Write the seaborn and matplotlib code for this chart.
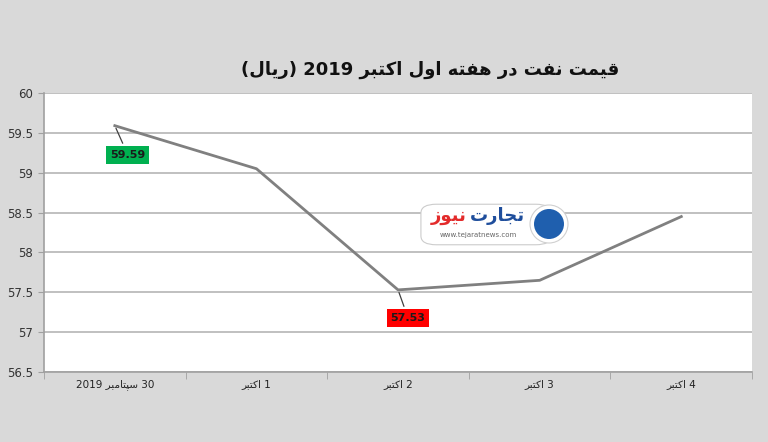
import re
import numpy as np
import pandas as pd
import matplotlib
matplotlib.use("Agg")
import matplotlib.pyplot as plt
import seaborn as sns
from matplotlib.patches import FancyBboxPatch, Ellipse

# data
dates = ["30 سپتامبر 2019", "1 اکتبر", "2 اکتبر", "3 اکتبر", "4 اکتبر"]
prices = [59.59, 59.05, 57.53, 57.65, 58.45]
y_ticks = [56.5, 57, 57.5, 58, 58.5, 59, 59.5, 60]
title = "قیمت نفت در هفته اول اکتبر 2019 (ریال)"

# presentation forms: isolated, final, initial, medial (None = does not join forward)
FORMS = {
    "ا": ("\uFE8D", "\uFE8E", None, None),
    "ب": ("\uFE8F", "\uFE90", "\uFE91", "\uFE92"),
    "پ": ("\uFB56", "\uFB57", "\uFB58", "\uFB59"),
    "ت": ("\uFE95", "\uFE96", "\uFE97", "\uFE98"),
    "ج": ("\uFE9D", "\uFE9E", "\uFE9F", "\uFEA0"),
    "د": ("\uFEA9", "\uFEAA", None, None),
    "ر": ("\uFEAD", "\uFEAE", None, None),
    "ز": ("\uFEAF", "\uFEB0", None, None),
    "س": ("\uFEB1", "\uFEB2", "\uFEB3", "\uFEB4"),
    "ف": ("\uFED1", "\uFED2", "\uFED3", "\uFED4"),
    "ق": ("\uFED5", "\uFED6", "\uFED7", "\uFED8"),
    "ک": ("\uFB8E", "\uFB8F", "\uFB90", "\uFB91"),
    "ل": ("\uFEDD", "\uFEDE", "\uFEDF", "\uFEE0"),
    "م": ("\uFEE1", "\uFEE2", "\uFEE3", "\uFEE4"),
    "ن": ("\uFEE5", "\uFEE6", "\uFEE7", "\uFEE8"),
    "ه": ("\uFEE9", "\uFEEA", "\uFEEB", "\uFEEC"),
    "و": ("\uFEED", "\uFEEE", None, None),
    "ی": ("\uFBFC", "\uFBFD", "\uFBFE", "\uFBFF"),
}


def rtl(text):
    """Shape Persian letters and put the string in visual order."""
    out = []
    for i, ch in enumerate(text):
        if ch not in FORMS:
            out.append(ch)
            continue
        prev = text[i - 1] if i > 0 else ""
        nxt = text[i + 1] if i + 1 < len(text) else ""
        joins_prev = prev in FORMS and FORMS[prev][2] is not None
        joins_next = FORMS[ch][2] is not None and nxt in FORMS
        iso, fin, ini, med = FORMS[ch]
        if joins_prev and joins_next:
            out.append(med)
        elif joins_prev:
            out.append(fin)
        elif joins_next:
            out.append(ini)
        else:
            out.append(iso)
    vis = "".join(out)[::-1]
    vis = re.sub(r"[0-9.]+", lambda m: m.group(0)[::-1], vis)
    return vis.translate(str.maketrans("()", ")("))


df = pd.DataFrame({"date": [rtl(d) for d in dates], "price": prices})

bg = "#d9d9d9"
fig = plt.figure(figsize=(7.68, 4.42), dpi=100, facecolor=bg)
ax = fig.add_axes([0.0573, 0.1584, 0.922, 0.6312])
ax.set_facecolor("white")

sns.lineplot(data=df, x="date", y="price", ax=ax, color="#808080",
             linewidth=2.0, sort=False)

ax.set_xlim(-0.5, len(dates) - 0.5)
ax.set_ylim(y_ticks[0], y_ticks[-1])
ax.set_yticks(y_ticks)
ax.set_yticklabels([f"{t:g}" for t in y_ticks], fontsize=8.5, color="#333333")
ax.set_xticks(range(len(dates)))
ax.set_xticklabels(df["date"], fontsize=7.5, color="#222222")
ax.set_xticks(np.arange(-0.5, len(dates)), minor=True)
ax.tick_params(axis="x", which="major", length=0, pad=5)
ax.tick_params(axis="x", which="minor", length=5, color="#a0a0a0")
ax.tick_params(axis="y", length=4, color="#a0a0a0", pad=4)
ax.set_xlabel("")
ax.set_ylabel("")

ax.grid(axis="y", color="#b5b5b5", linewidth=1.2)
ax.set_axisbelow(True)
for side in ["top", "right"]:
    ax.spines[side].set_visible(False)
for side in ["left", "bottom"]:
    ax.spines[side].set_color("#a0a0a0")
    ax.spines[side].set_linewidth(1.2)

# value labels for the high and the low
ax.annotate(f"{prices[0]:.2f}", xy=(0, prices[0]), xytext=(13, -29),
            textcoords="offset pixels", ha="center", va="center", fontsize=8,
            fontweight="bold", color="#1a1a1a",
            bbox=dict(boxstyle="square,pad=0.35", fc="#00b050", ec="none"),
            arrowprops=dict(arrowstyle="-", color="#404040", lw=0.9))
ax.annotate(f"{prices[2]:.2f}", xy=(2, prices[2]), xytext=(10, -28),
            textcoords="offset pixels", ha="center", va="center", fontsize=8,
            fontweight="bold", color="#1a1a1a",
            bbox=dict(boxstyle="square,pad=0.35", fc="#ff0000", ec="none"),
            arrowprops=dict(arrowstyle="-", color="#404040", lw=0.9))

fig.text(0.56, 0.842, rtl(title), ha="center", va="center",
         fontsize=13, fontweight="bold", color="#111111")

# watermark logo
fig.patches.append(FancyBboxPatch((424 / 768, 1 - 243 / 442), 124 / 768, 37 / 442,
                                  boxstyle="round,pad=0.004,rounding_size=0.02",
                                  transform=fig.transFigure, fc="white", ec="#cccccc",
                                  lw=0.8, zorder=5))
fig.patches.append(Ellipse((549 / 768, 1 - 224 / 442), 38 / 768, 38 / 442,
                           transform=fig.transFigure, fc="white", ec="#d0d0d0",
                           lw=0.8, zorder=6))
fig.patches.append(Ellipse((549 / 768, 1 - 224 / 442), 30 / 768, 30 / 442,
                           transform=fig.transFigure, fc="#1f5fae", ec="none", zorder=6))
fig.text(497 / 768, 1 - 216 / 442, rtl("تجارت"), ha="center", va="center",
         fontsize=13, fontweight="bold", color="#1f4e9c", zorder=7)
fig.text(449 / 768, 1 - 216 / 442, rtl("نیوز"), ha="center", va="center",
         fontsize=13, fontweight="bold", color="#e32b2b", zorder=7)
fig.text(478 / 768, 1 - 235 / 442, "www.tejaratnews.com", ha="center", va="center",
         fontsize=5, color="#666666", zorder=7)

fig.savefig("out.png", dpi=100, facecolor=bg)
